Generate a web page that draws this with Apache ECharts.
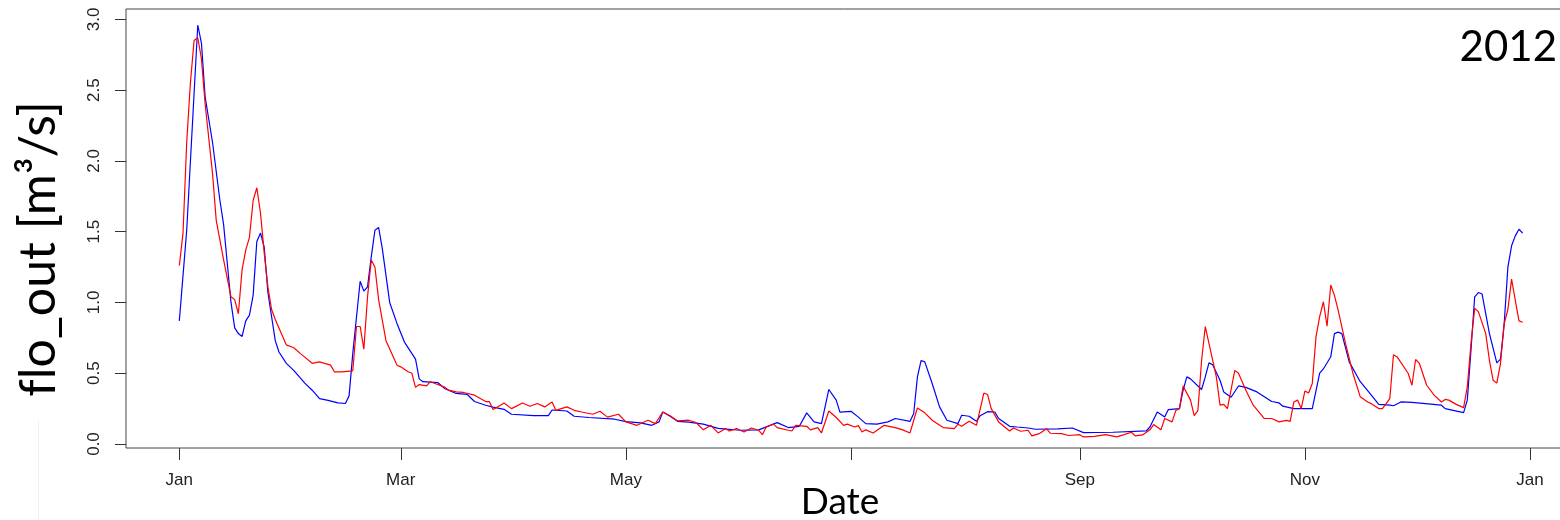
<!DOCTYPE html>
<html>
<head>
<meta charset="utf-8">
<script src="https://cdn.jsdelivr.net/npm/echarts@6/dist/echarts.min.js"></script>
<style>
html,body{margin:0;padding:0;background:#fff;}
#chart{width:1560px;height:520px;}
</style>
</head>
<body>
<div id="chart"></div>
<script>
// x values are day-of-year in 2012 (0 = 1 Jan 2012)
const blueDay = [0,2,5,6,7,9,11,12,14,15,16,17,18,19,20,21,22,23,24,26,27,29,31,34,36,38,40,43,45,46,47,49,50,51,52,53,54,55,57,59,61,64,65,66,70,72,75,78,80,83,85,88,90,96,100,101,105,107,111,118,121,125,128,130,131,133,135,138,142,146,152,157,162,165,168,170,172,174,176,178,179,182,184,186,189,192,194,198,199,200,201,202,204,206,208,211,212,214,216,217,219,221,222,225,227,230,232,238,242,245,253,262,263,265,267,268,271,272,273,274,277,278,279,280,282,283,285,287,289,292,296,298,299,302,307,309,310,312,313,314,315,317,320,323,325,328,329,331,334,342,343,348,349,350,351,352,353,355,357,358,359,360,361,362,363,364];
const blueFlow = [0.87,1.51,2.96,2.83,2.45,2.13,1.72,1.55,1.00,0.82,0.78,0.76,0.87,0.91,1.05,1.43,1.49,1.39,1.07,0.73,0.65,0.57,0.52,0.43,0.38,0.32,0.31,0.29,0.286,0.34,0.64,1.15,1.08,1.11,1.32,1.51,1.53,1.38,1.00,0.85,0.72,0.60,0.46,0.44,0.434,0.39,0.357,0.35,0.30,0.274,0.26,0.245,0.21,0.20,0.20,0.24,0.233,0.196,0.187,0.175,0.158,0.149,0.132,0.156,0.226,0.196,0.16,0.155,0.14,0.11,0.097,0.10,0.151,0.116,0.125,0.22,0.156,0.144,0.385,0.31,0.225,0.231,0.19,0.144,0.14,0.156,0.18,0.16,0.215,0.474,0.59,0.58,0.427,0.262,0.168,0.144,0.203,0.196,0.16,0.20,0.228,0.226,0.18,0.125,0.12,0.113,0.104,0.107,0.113,0.08,0.083,0.092,0.12,0.226,0.19,0.243,0.25,0.38,0.474,0.46,0.385,0.474,0.573,0.56,0.45,0.368,0.33,0.41,0.40,0.368,0.30,0.29,0.267,0.25,0.25,0.50,0.53,0.616,0.78,0.79,0.78,0.58,0.44,0.345,0.28,0.274,0.27,0.297,0.294,0.274,0.25,0.222,0.31,0.663,1.04,1.07,1.06,0.78,0.573,0.60,0.85,1.25,1.40,1.47,1.517,1.49];
const redDay = [0,1,2,3,4,5,6,7,9,10,12,14,15,16,17,18,19,20,21,22,23,24,25,26,28,29,31,33,36,38,41,42,44,47,48,49,50,51,52,53,54,56,59,60,62,63,64,65,67,68,70,72,73,75,77,80,83,84,85,87,88,90,93,95,97,99,101,102,105,107,109,112,114,116,119,121,124,127,129,131,133,135,138,140,142,144,146,148,149,151,153,155,157,158,159,161,162,165,166,167,170,171,173,174,176,178,180,181,183,184,185,186,188,191,194,196,198,199,200,202,204,207,210,211,212,214,216,218,219,220,222,225,226,228,230,231,233,235,236,239,241,244,245,248,251,254,256,258,259,261,263,264,266,267,269,270,271,272,274,275,276,277,278,279,281,282,283,284,286,287,289,291,294,296,298,300,301,302,303,304,305,306,307,308,309,310,311,312,313,314,316,318,320,322,323,325,326,328,329,330,333,334,335,336,338,340,342,343,344,346,348,349,350,351,352,354,355,356,357,358,359,360,361,362,363,364];
const redFlow = [1.26,1.49,2.13,2.55,2.85,2.87,2.72,2.40,1.91,1.58,1.30,1.04,1.02,0.92,1.23,1.37,1.46,1.72,1.81,1.63,1.35,1.11,0.95,0.88,0.76,0.70,0.68,0.635,0.57,0.58,0.557,0.51,0.51,0.517,0.83,0.83,0.67,1.04,1.30,1.25,1.02,0.73,0.556,0.545,0.51,0.50,0.40,0.42,0.41,0.44,0.42,0.40,0.38,0.368,0.364,0.345,0.30,0.30,0.243,0.274,0.29,0.25,0.29,0.267,0.286,0.262,0.297,0.238,0.262,0.238,0.226,0.21,0.231,0.19,0.21,0.156,0.132,0.168,0.144,0.226,0.20,0.163,0.168,0.152,0.10,0.132,0.078,0.109,0.092,0.109,0.085,0.113,0.097,0.066,0.12,0.14,0.116,0.097,0.092,0.132,0.125,0.10,0.116,0.078,0.233,0.187,0.132,0.14,0.12,0.13,0.085,0.10,0.078,0.132,0.116,0.10,0.078,0.168,0.255,0.22,0.168,0.116,0.109,0.14,0.125,0.16,0.132,0.36,0.35,0.25,0.156,0.092,0.113,0.09,0.097,0.057,0.073,0.107,0.076,0.073,0.06,0.066,0.05,0.054,0.066,0.05,0.066,0.083,0.057,0.064,0.10,0.137,0.10,0.18,0.156,0.236,0.25,0.41,0.31,0.20,0.236,0.59,0.83,0.71,0.474,0.274,0.28,0.25,0.52,0.50,0.38,0.274,0.18,0.18,0.156,0.167,0.16,0.297,0.31,0.25,0.375,0.36,0.427,0.757,0.90,1.005,0.833,1.123,1.05,0.946,0.71,0.50,0.333,0.297,0.285,0.25,0.25,0.32,0.63,0.615,0.498,0.415,0.597,0.57,0.415,0.345,0.297,0.315,0.31,0.28,0.257,0.403,0.71,0.958,0.935,0.78,0.59,0.45,0.43,0.57,0.85,0.95,1.165,1.017,0.87,0.86];

const monthTickDays = [0,60,121,182,244,305,366];
const monthTickNames = ['Jan','Mar','May','Jul','Sep','Nov','Jan'];
const monthLabelDays = [0,60,121,244,305,366];
const yTicks = [0,0.5,1,1.5,2,2.5,3];
const yTickLabels = ['0.0','0.5','1.0','1.5','2.0','2.5','3.0'];

const zip = (xs, ys) => xs.map((x, i) => [x, ys[i]]);

const chart = echarts.init(document.getElementById('chart'));
chart.setOption({
  animation: false,
  backgroundColor: '#ffffff',
  grid: {
    left: 126, right: -10, top: 9, bottom: 72,
    show: true, borderColor: '#444', borderWidth: 1,
    containLabel: false, outerBoundsMode: 'none'
  },
  xAxis: {
    type: 'value',
    min: -14.45, max: 376.83,
    axisLine: { show: false, onZero: false },
    splitLine: { show: false },
    axisTick: { show: true, customValues: monthTickDays, length: 12, lineStyle: { color: '#333', width: 1 } },
    axisLabel: {
      customValues: monthLabelDays,
      margin: 24,
      fontFamily: 'Liberation Sans', fontSize: 17, color: '#222',
      formatter: v => monthTickNames[monthTickDays.indexOf(Math.round(v))]
    }
  },
  yAxis: {
    type: 'value',
    min: -0.0283, max: 3.073,
    axisLine: { show: false, onZero: false },
    splitLine: { show: false },
    axisTick: { show: true, customValues: yTicks, length: 11, lineStyle: { color: '#333', width: 1 } },
    axisLabel: {
      customValues: yTicks,
      rotate: 90,
      margin: 23,
      fontFamily: 'Liberation Sans', fontSize: 17, color: '#222',
      formatter: v => yTickLabels[yTicks.indexOf(Math.round(v * 2) / 2)]
    }
  },
  graphic: [
    { type: 'text', x: 39, y: 249, rotation: Math.PI / 2,
      style: { text: 'f\u200Clo_out [m³/s]', font: '50px Lato', fill: '#000', align: 'center', verticalAlign: 'middle' } },
    { type: 'text', x: 840, y: 502,
      style: { text: 'Date', font: '37px Lato', fill: '#000', align: 'center', verticalAlign: 'middle' } },
    { type: 'text', x: 1557, y: 47,
      style: { text: '2012', font: '42px Lato', fill: '#000', align: 'right', verticalAlign: 'middle' } },
    { type: 'line', shape: { x1: 38.5, y1: 420, x2: 38.5, y2: 520 },
      style: { stroke: '#f0f0f0', lineWidth: 1 } }
  ],
  series: [
    { type: 'line', data: zip(blueDay, blueFlow), showSymbol: false, symbol: 'none',
      lineStyle: { color: '#0000ff', width: 1.2 }, itemStyle: { color: '#0000ff' }, silent: true },
    { type: 'line', data: zip(redDay, redFlow), showSymbol: false, symbol: 'none',
      lineStyle: { color: '#ff0000', width: 1.2 }, itemStyle: { color: '#ff0000' }, silent: true }
  ]
});
</script>
</body>
</html>
